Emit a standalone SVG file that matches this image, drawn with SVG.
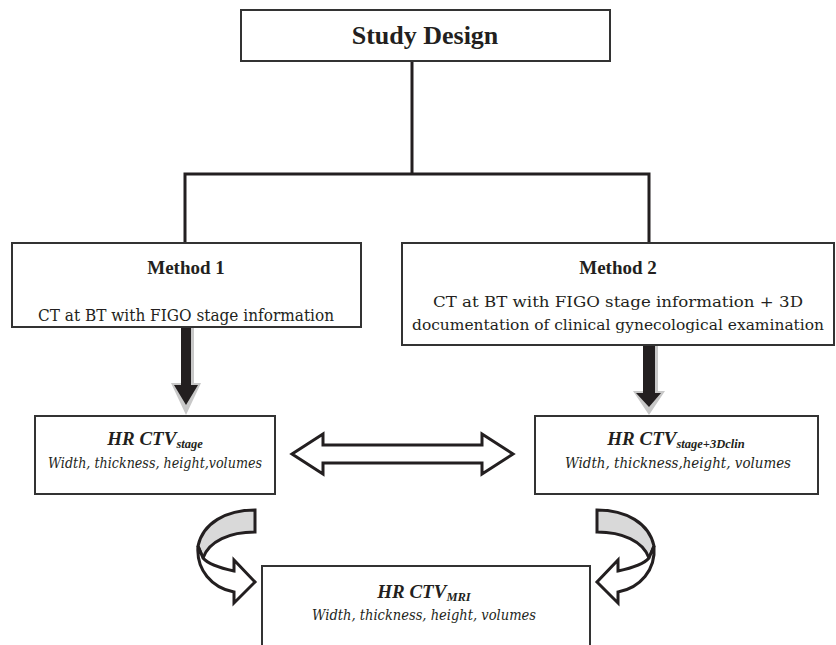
<svg xmlns="http://www.w3.org/2000/svg" width="836" height="645" viewBox="0 0 836 645">
<style>
.box{fill:#fff;stroke:#333;stroke-width:2}
text{font-family:"Liberation Serif","Times New Roman",Times,serif;fill:#231f20}
.b{font-weight:bold}
.r{font-family:"DejaVu Serif",serif}
.i{font-style:italic}
.conn{fill:none;stroke:#231f20;stroke-width:3}
.blk{fill:#231f20;stroke:none}
.shd{fill:#c8c8c8;stroke:none}
.hol{fill:#fff;stroke:#231f20;stroke-width:3;stroke-linejoin:miter}
.holg{fill:#d9d9d9;stroke:#231f20;stroke-width:3;stroke-linejoin:miter}
</style>
<g id="connectors">
<polyline class="conn" points="412,61 412,174"/>
<polyline class="conn" points="185,243 185,174 649,174 649,243"/>
<g id="down1">
<polygon class="shd" points="190,327 194,327 194,383 201,383 186,415 171,383 190,383"/>
<polygon class="blk" points="181,327 191,327 191,385 198,385 186,405 174,385 181,385"/>
</g>
<g id="down2">
<polygon class="shd" points="654,345 658,345 658,391 665,391 649,415 633,391 654,391"/>
<polygon class="blk" points="643,345 655,345 655,393 661,393 649,407 636,393 643,393"/>
</g>
<polygon id="double" class="hol" points="292,454 323,434 323,445 482,445 482,434 513,454 482,474 482,463 323,463 323,474"/>
<g id="curveL">
<path class="holg" d="M255,510 L255,532 C230,532 209,541 203,558 L198,546 C203,523 226,510 255,510 Z"/>
<path class="hol" d="M198,546 C196,570 212,588 234,592 L234,603 L255,582 L234,560 L234,571 C220,568 208,564 203,558 Z"/>
</g>
<g id="curveR">
<path class="holg" d="M597,510 L597,532 C622,532 643,541 649,558 L654,546 C649,523 626,510 597,510 Z"/>
<path class="hol" d="M654,546 C656,570 640,588 618,592 L618,603 L597,582 L618,560 L618,571 C632,568 644,564 649,558 Z"/>
</g>
</g>
<g id="study">
<rect class="box" x="241" y="10" width="369" height="51"/>
<text class="b" x="425" y="44" font-size="26" text-anchor="middle">Study Design</text>
</g>
<g id="method1">
<rect class="box" x="12" y="243" width="349" height="84"/>
<text class="b" x="186" y="274" font-size="19" text-anchor="middle">Method 1</text>
<text class="r" x="186" y="321" font-size="16" text-anchor="middle" textLength="296" lengthAdjust="spacingAndGlyphs">CT at BT with FIGO stage information</text>
</g>
<g id="method2">
<rect class="box" x="402" y="243" width="432" height="102"/>
<text class="b" x="618" y="274" font-size="19" text-anchor="middle">Method 2</text>
<text class="r" x="618" y="307" font-size="15.5" text-anchor="middle" textLength="370" lengthAdjust="spacingAndGlyphs">CT at BT with FIGO stage information + 3D</text>
<text class="r" x="618" y="330" font-size="15.5" text-anchor="middle" textLength="412" lengthAdjust="spacingAndGlyphs">documentation of clinical gynecological examination</text>
</g>
<g id="hrstage">
<rect class="box" x="35" y="416" width="240" height="78"/>
<text class="b i" x="155" y="445" font-size="19" text-anchor="middle">HR CTV<tspan font-size="12.5" dy="3">stage</tspan></text>
<text class="r i" x="155" y="468" font-size="14.5" text-anchor="middle" textLength="214" lengthAdjust="spacingAndGlyphs">Width, thickness, height,volumes</text>
</g>
<g id="hrclin">
<rect class="box" x="535" y="416" width="283" height="78"/>
<text class="b i" x="676" y="445" font-size="19" text-anchor="middle">HR CTV<tspan font-size="12.5" dy="3">stage+3Dclin</tspan></text>
<text class="r i" x="678" y="468" font-size="14.5" text-anchor="middle" textLength="226" lengthAdjust="spacingAndGlyphs">Width, thickness,height, volumes</text>
</g>
<g id="hrmri">
<polyline class="box" fill="none" points="262,646 262,566 590,566 590,646"/>
<text class="b i" x="424" y="598" font-size="19" text-anchor="middle">HR CTV<tspan font-size="12.5" dy="3">MRI</tspan></text>
<text class="r i" x="424" y="620" font-size="14.5" text-anchor="middle" textLength="224" lengthAdjust="spacingAndGlyphs">Width, thickness, height, volumes</text>
</g>
</svg>
